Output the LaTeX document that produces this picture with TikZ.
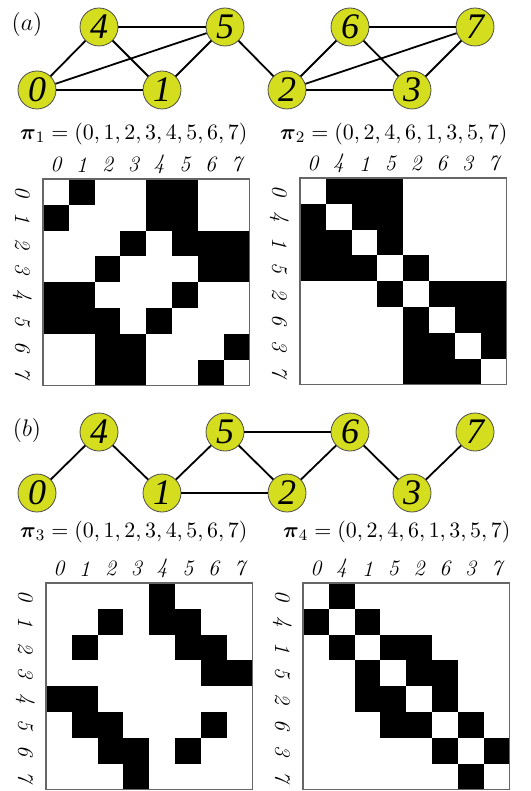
\documentclass[tikz,border=0pt]{standalone}
\usepackage{amsmath}
\usepackage{fontspec}
\newfontfamily\vertexfont{Liberation Serif}
\definecolor{nodeyellow}{RGB}{213,222,30}
\begin{document}
\begin{tikzpicture}[x = 0.5pt, y = -0.5pt, draw = black,
  vertex/.style = {circle, draw = black!70, fill = nodeyellow, minimum size = 19pt, inner sep = 0pt, font = \vertexfont\fontsize{18}{18}\selectfont\itshape},
  link/.style = {line width = 0.9pt},
  lab/.style = {font = \fontsize{11}{12}\selectfont\itshape},
  perm/.style = {anchor = west, font = \fontsize{10.8}{13}\selectfont}]
\useasboundingbox (0,0) rectangle (530,791);
% part (a)
\node[font = \fontsize{12}{14}\selectfont] (taga) at (27,25) {$(a)$};
\node[vertex] (a0) at (37,90) {0};
\node[vertex] (a4) at (99,27) {4};
\node[vertex] (a1) at (162,90) {1};
\node[vertex] (a5) at (225,27) {5};
\node[vertex] (a2) at (287,90) {2};
\node[vertex] (a6) at (350,27) {6};
\node[vertex] (a3) at (412,90) {3};
\node[vertex] (a7) at (475,27) {7};
\draw[link] (a0) -- (a4);
\draw[link] (a0) -- (a5);
\draw[link] (a0) -- (a1);
\draw[link] (a4) -- (a5);
\draw[link] (a4) -- (a1);
\draw[link] (a1) -- (a5);
\draw[link] (a5) -- (a2);
\draw[link] (a2) -- (a6);
\draw[link] (a2) -- (a7);
\draw[link] (a2) -- (a3);
\draw[link] (a6) -- (a7);
\draw[link] (a6) -- (a3);
\draw[link] (a3) -- (a7);
\node[perm] (pi1) at (13,134) {$\boldsymbol{\pi}_1 = (0, 1, 2, 3, 4, 5, 6, 7)$};
\node[perm] (pi2) at (273,134) {$\boldsymbol{\pi}_2 = (0, 2, 4, 6, 1, 3, 5, 7)$};
\begin{scope}[shift = {(43,179)}, x = 12.9pt, y = -12.9pt]
\foreach \i/\j in {0/1, 0/4, 0/5, 1/4, 1/5, 4/5, 2/5, 2/3, 2/6, 2/7, 3/6, 3/7, 6/7} {
  \fill (\j,\i) rectangle ++(1,1);
  \fill (\i,\j) rectangle ++(1,1);
}
\draw[black!60, line width = 0.6pt] (0,0) rectangle (8,8);
\foreach \k/\t in {0/0, 1/1, 2/2, 3/3, 4/4, 5/5, 6/6, 7/7} {
  \node[lab] (ma\k) at (\k+0.5,-0.55) {\t};
  \node[lab, rotate = -90] (ra\k) at (-0.8,\k+0.5) {\t};
}
\end{scope}
\begin{scope}[shift = {(300,178)}, x = 12.9pt, y = -12.9pt]
\foreach \i/\j in {0/2, 0/1, 0/3, 2/1, 2/3, 1/3, 4/3, 4/6, 4/5, 4/7, 6/5, 6/7, 5/7} {
  \fill (\j,\i) rectangle ++(1,1);
  \fill (\i,\j) rectangle ++(1,1);
}
\draw[black!60, line width = 0.6pt] (0,0) rectangle (8,8);
\foreach \k/\t in {0/0, 1/4, 2/1, 3/5, 4/2, 5/6, 6/3, 7/7} {
  \node[lab] (mb\k) at (\k+0.5,-0.55) {\t};
  \node[lab, rotate = -90] (rb\k) at (-0.8,\k+0.5) {\t};
}
\end{scope}
% part (b)
\node[font = \fontsize{12}{14}\selectfont] (tagb) at (27,430) {$(b)$};
\node[vertex] (b0) at (37,493) {0};
\node[vertex] (b4) at (99,432) {4};
\node[vertex] (b1) at (162,493) {1};
\node[vertex] (b5) at (225,432) {5};
\node[vertex] (b2) at (287,493) {2};
\node[vertex] (b6) at (350,432) {6};
\node[vertex] (b3) at (412,493) {3};
\node[vertex] (b7) at (475,432) {7};
\draw[link] (b0) -- (b4);
\draw[link] (b4) -- (b1);
\draw[link] (b1) -- (b5);
\draw[link] (b1) -- (b2);
\draw[link] (b5) -- (b6);
\draw[link] (b5) -- (b2);
\draw[link] (b2) -- (b6);
\draw[link] (b6) -- (b3);
\draw[link] (b3) -- (b7);
\node[perm] (pi3) at (13,532) {$\boldsymbol{\pi}_3 = (0, 1, 2, 3, 4, 5, 6, 7)$};
\node[perm] (pi4) at (276,532) {$\boldsymbol{\pi}_4 = (0, 2, 4, 6, 1, 3, 5, 7)$};
\begin{scope}[shift = {(46,583)}, x = 12.9pt, y = -12.9pt]
\foreach \i/\j in {0/4, 1/4, 1/5, 1/2, 2/5, 5/6, 2/6, 3/6, 3/7} {
  \fill (\j,\i) rectangle ++(1,1);
  \fill (\i,\j) rectangle ++(1,1);
}
\draw[black!60, line width = 0.6pt] (0,0) rectangle (8,8);
\foreach \k/\t in {0/0, 1/1, 2/2, 3/3, 4/4, 5/5, 6/6, 7/7} {
  \node[lab] (mc\k) at (\k+0.5,-0.55) {\t};
  \node[lab, rotate = -90] (rc\k) at (-0.8,\k+0.5) {\t};
}
\end{scope}
\begin{scope}[shift = {(303,583)}, x = 12.9pt, y = -12.9pt]
\foreach \i/\j in {0/1, 2/1, 2/3, 2/4, 4/3, 3/5, 4/5, 6/5, 6/7} {
  \fill (\j,\i) rectangle ++(1,1);
  \fill (\i,\j) rectangle ++(1,1);
}
\draw[black!60, line width = 0.6pt] (0,0) rectangle (8,8);
\foreach \k/\t in {0/0, 1/4, 2/1, 3/5, 4/2, 5/6, 6/3, 7/7} {
  \node[lab] (md\k) at (\k+0.5,-0.55) {\t};
  \node[lab, rotate = -90] (rd\k) at (-0.8,\k+0.5) {\t};
}
\end{scope}
\end{tikzpicture}
\end{document}
